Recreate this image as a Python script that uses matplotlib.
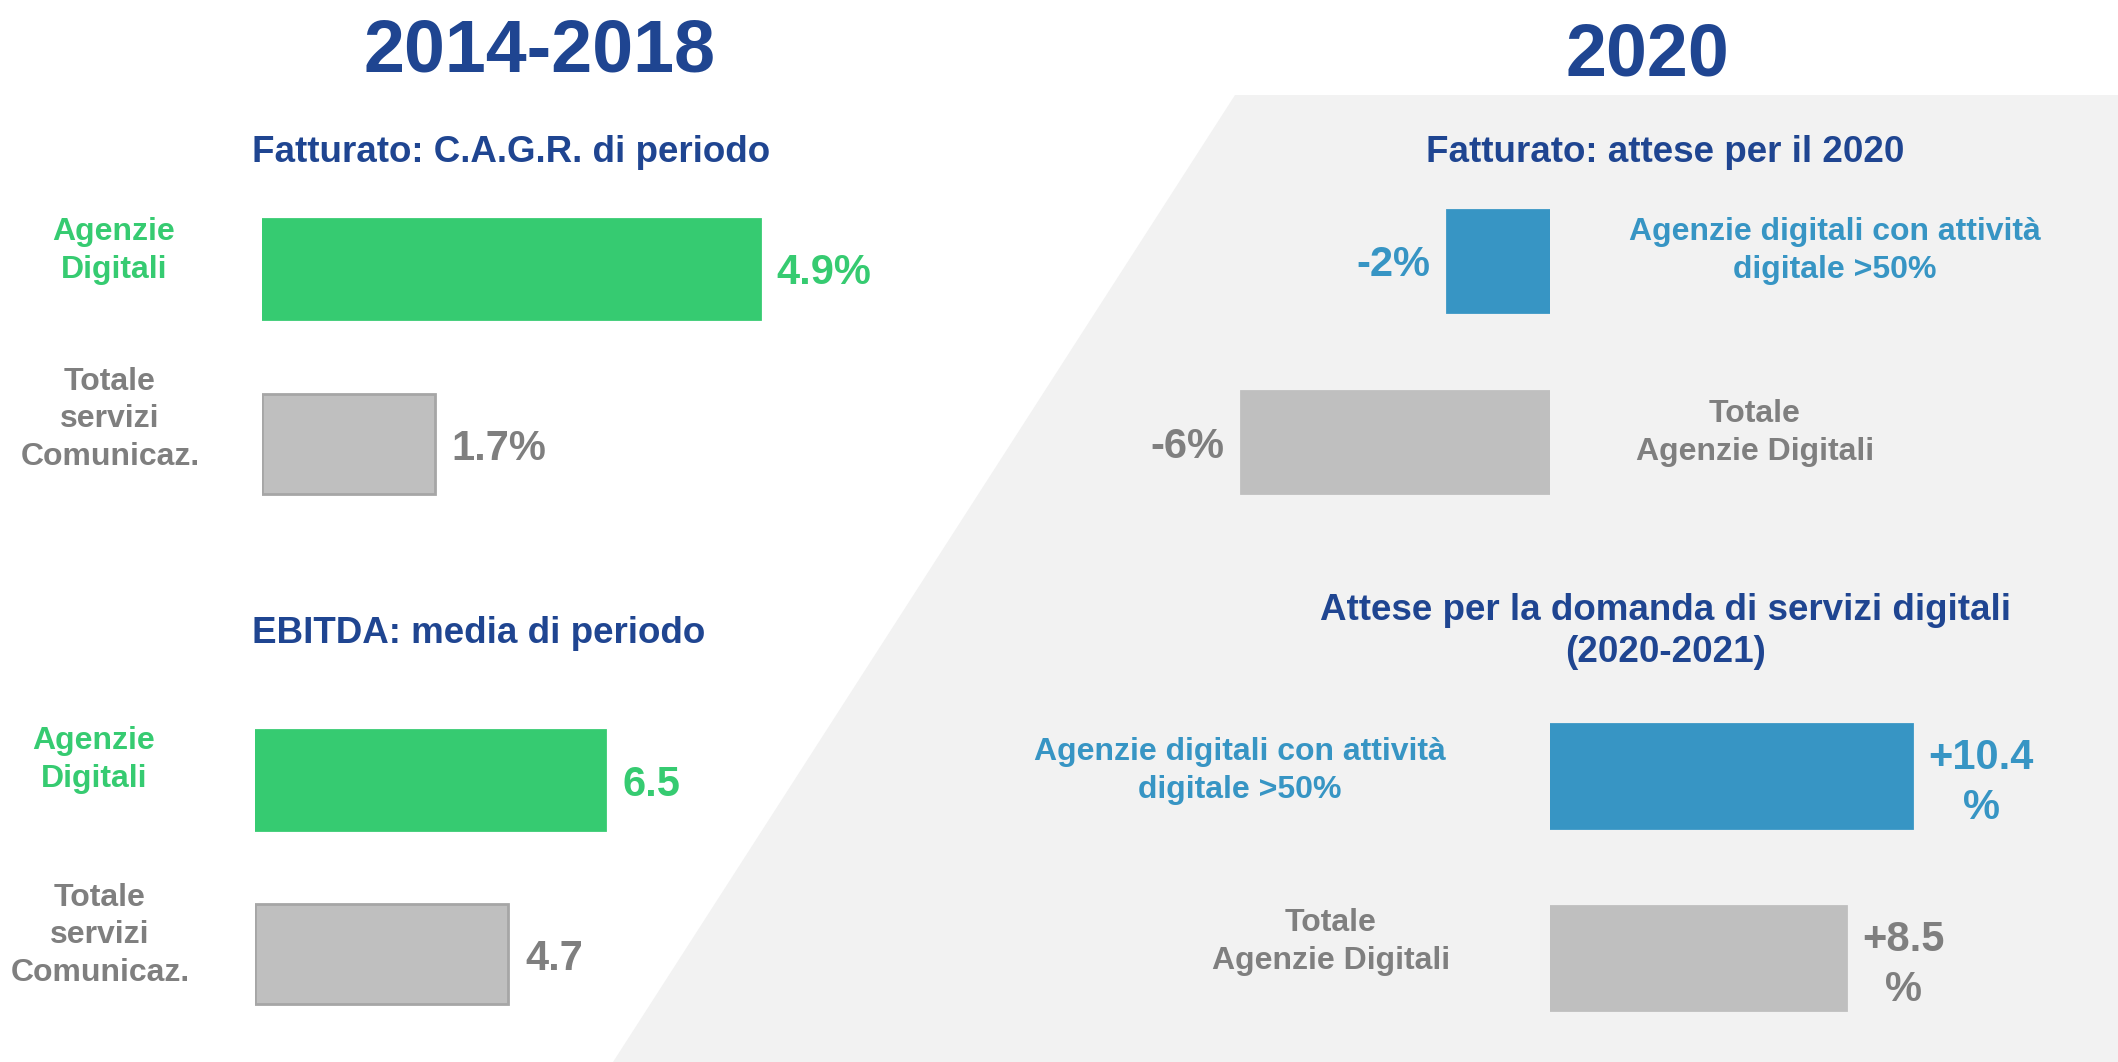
import matplotlib
matplotlib.use("Agg")
import matplotlib.pyplot as plt
from matplotlib.patches import Polygon

plt.rcParams['font.family'] = ['Liberation Sans', 'DejaVu Sans']
plt.rcParams['font.weight'] = 'bold'

# data
cagr_labels = ["Agenzie\nDigitali", "Totale\nservizi\nComunicaz."]
cagr_values = [4.9, 1.7]

fatt2020_labels = ["Agenzie digitali con attività\ndigitale >50%", "Totale\nAgenzie Digitali"]
fatt2020_values = [-2, -6]

ebitda_labels = ["Agenzie\nDigitali", "Totale\nservizi\nComunicaz."]
ebitda_values = [6.5, 4.7]

domanda_labels = ["Agenzie digitali con attività\ndigitale >50%", "Totale\nAgenzie Digitali"]
domanda_values = [10.4, 8.5]

DARK_BLUE = "#1f4591"
GREEN = "#36cb71"
BLUE = "#3795c4"
GREY_BAR = "#bfbfbf"
GREY_EDGE = "#a6a6a6"
GREY_TXT = "#7f7f7f"
BG = "#f2f2f2"

W, H = 2118, 1062
fig = plt.figure(figsize=(W / 100, H / 100), dpi=100)

# background / overlay axes in pixel coords
bg = fig.add_axes([0, 0, 1, 1], zorder=0)
bg.set_xlim(0, W)
bg.set_ylim(H, 0)
bg.axis('off')
bg.add_patch(Polygon([(1235, 95), (W, 95), (W, H), (613, H)], closed=True,
                     facecolor=BG, edgecolor='none'))

bg.text(539, 71, "2014-2018", ha='center', va='baseline', fontsize=53, color=DARK_BLUE)
bg.text(1647, 76, "2020", ha='center', va='baseline', fontsize=53, color=DARK_BLUE)

# note: va='baseline' on multiline text sits on the last line
sub_kw = dict(ha='center', va='baseline', fontsize=26.5, color=DARK_BLUE)
bg.text(511, 162, "Fatturato: C.A.G.R. di periodo", **sub_kw)
bg.text(1665, 162, "Fatturato: attese per il 2020", **sub_kw)
bg.text(479, 643, "EBITDA: media di periodo", **sub_kw)
bg.text(1666, 662, "Attese per la domanda di servizi digitali\n(2020-2021)",
        multialignment='center', linespacing=1.25, **sub_kw)


def cat_label(x, y, s, color):
    bg.text(x, y, s, ha='center', va='baseline', multialignment='center',
            fontsize=23, color=color, linespacing=1.33)


def bar_panel(zero_px, ppu, lo, hi, yc0, yc1, bar_px, values, colors, edges):
    gap = yc1 - yc0
    left = zero_px + lo * ppu
    width = (hi - lo) * ppu
    top = yc0 - gap / 2
    ax = fig.add_axes([left / W, 1 - (top + 2 * gap) / H, width / W, 2 * gap / H], zorder=1)
    ax.patch.set_alpha(0)
    ax.set_xlim(lo, hi)
    ax.set_ylim(1.5, -0.5)
    ax.axis('off')
    ax.barh(range(len(values)), values, height=bar_px / gap, color=colors,
            edgecolor=edges, linewidth=2)
    return ax


def value_label(ax, x, y, s, color, side, va='center_baseline', dy=0):
    off = 12 if side == 'right' else -12
    ax.annotate(s, xy=(x, y), xytext=(off, dy), textcoords='offset points',
                ha='left' if side == 'right' else 'right', va=va,
                multialignment='center', fontsize=30, color=color, linespacing=1.3)


# Fatturato CAGR 2014-2018
ax1 = bar_panel(262, 101.6, 0, 6, 269, 444, 100, cagr_values,
                [GREEN, GREY_BAR], [GREEN, GREY_EDGE])
for i, v in enumerate(cagr_values):
    value_label(ax1, v, i, f"{v}%", [GREEN, GREY_TXT][i], 'right')
cat_label(114, 278, cagr_labels[0], GREEN)
cat_label(110, 465, cagr_labels[1], GREY_TXT)

# Fatturato attese 2020
ax2 = bar_panel(1550, 51.5, -8, 0, 261, 442, 102, fatt2020_values,
                [BLUE, GREY_BAR], [BLUE, GREY_BAR])
for i, v in enumerate(fatt2020_values):
    value_label(ax2, v, i, f"{v}%", [BLUE, GREY_TXT][i], 'left')
cat_label(1835, 278, fatt2020_labels[0], BLUE)
cat_label(1755, 460, fatt2020_labels[1], GREY_TXT)

# EBITDA media 2014-2018
ax3 = bar_panel(255, 53.9, 0, 8, 780, 954, 100, ebitda_values,
                [GREEN, GREY_BAR], [GREEN, GREY_EDGE])
for i, v in enumerate(ebitda_values):
    value_label(ax3, v, i, f"{v}", [GREEN, GREY_TXT][i], 'right')
cat_label(94, 787, ebitda_labels[0], GREEN)
cat_label(100, 981, ebitda_labels[1], GREY_TXT)

# Domanda servizi digitali 2020-2021
ax4 = bar_panel(1550, 34.8, 0, 16, 776, 958, 104, domanda_values,
                [BLUE, GREY_BAR], [BLUE, GREY_BAR])
for i, v in enumerate(domanda_values):
    value_label(ax4, v, i, f"+{v}\n%", [BLUE, GREY_TXT][i], 'right', va='center', dy=-5)
cat_label(1240, 798, domanda_labels[0], BLUE)
cat_label(1331, 969, domanda_labels[1], GREY_TXT)

fig.savefig("out.png", dpi=100, facecolor='white')
